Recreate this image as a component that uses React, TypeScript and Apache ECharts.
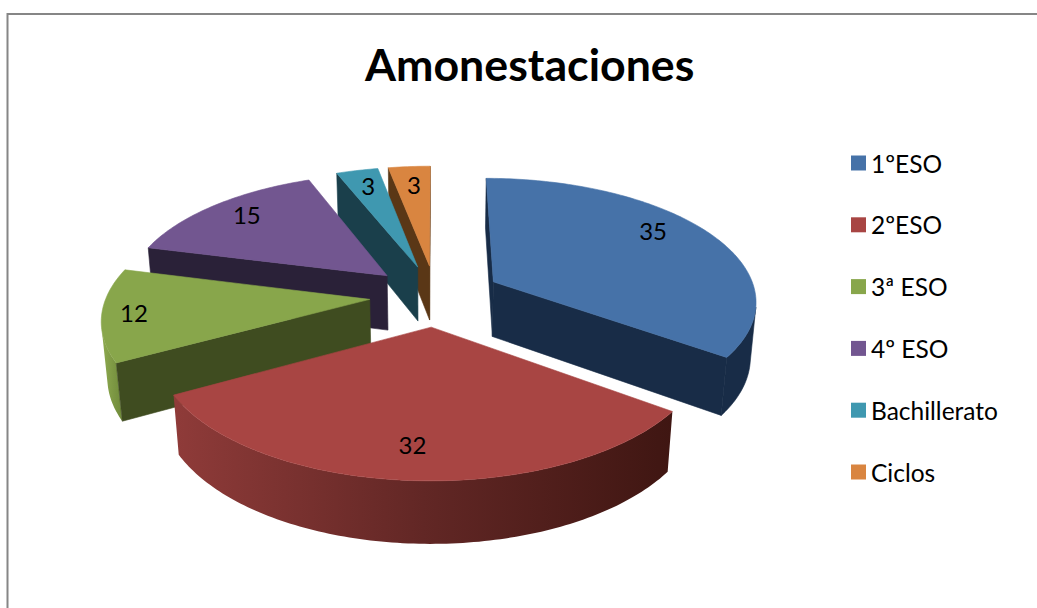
import React, { useEffect, useRef } from "react";
import * as echarts from "echarts";

const titleText = "Amonestaciones";
const categories = ["1ºESO", "2ºESO", "3ª ESO", "4º ESO", "Bachillerato", "Ciclos"];
const values = [35, 32, 12, 15, 3, 3];
const topColors = ["#4672a8", "#a84543", "#88a64b", "#725690", "#3f98b0", "#d98540"];
const wallColors = ["#182c47", "#431815", "#3f4c20", "#2a2138", "#1a3f4b", "#5a3716"];
const arcGradients: (string[] | null)[] = [
  null,
  ["#8f3b39", "#622725", "#3f1612"],
  ["#8eab50", "#7f9a45", "#6f8a3a"],
  null,
  null,
  null,
];
const drawOrder = [5, 4, 3, 0, 2, 1];
const labelRadius = [0.8, 0.65, 0.8, 0.8, 0.85, 0.85];
const labelNudge = [[-13, -11], [-6, 23], [-22, 1], [0, -4], [3, 2], [2, 5]];

// Camera and solid
const CX = 435.5, CY = 295.5, RADIUS = 263, EXPLODE = 66, HEIGHT = 63.5;
const ELEV = (27.6 * Math.PI) / 180, DIST = 1637;
const sinE = Math.sin(ELEV), cosE = Math.cos(ELEV);

function project(X: number, Y: number, Z: number): number[] {
  const n = Y * cosE + Z * sinE;
  const s = 1 / (1 - n / DIST);
  return [CX + X * s, CY + (Y * sinE - Z * cosE) * s];
}
function area(q: number[][]): number {
  let a = 0;
  for (let i = 0; i < q.length; i++) {
    const p = q[i], r = q[(i + 1) % q.length];
    a += p[0] * r[1] - r[0] * p[1];
  }
  return a;
}

const total = values.reduce((a, b) => a + b, 0);

function sliceElements(idx: number) {
  const before = values.slice(0, idx).reduce((a, b) => a + b, 0);
  const t0 = (before / total) * 2 * Math.PI;
  const t1 = ((before + values[idx]) / total) * 2 * Math.PI;
  const mid = (t0 + t1) / 2;
  const ox = EXPLODE * Math.sin(mid), oy = -EXPLODE * Math.cos(mid);
  const at = (t: number, r: number, z: number) =>
    project(ox + r * Math.sin(t), oy - r * Math.cos(t), z);

  const steps = Math.max(8, Math.round(((t1 - t0) * 180) / Math.PI));
  const ts: number[] = [];
  for (let i = 0; i <= steps; i++) ts.push(t0 + ((t1 - t0) * i) / steps);

  const children: any[] = [];
  const wallFill = wallColors[idx];
  const poly = (points: number[][], fill: any, stroke: string = "none") =>
    children.push({ type: "polygon", shape: { points }, style: { fill, stroke, lineWidth: 0.6 } });

  // rim wall: visible facets only
  const vis: number[] = [];
  for (let i = 0; i < steps; i++) {
    const q = [at(ts[i], RADIUS, 0), at(ts[i + 1], RADIUS, 0), at(ts[i + 1], RADIUS, -HEIGHT), at(ts[i], RADIUS, -HEIGHT)];
    if (area(q) < 0) vis.push(i);
  }
  if (vis.length) {
    const a = vis[0], b = vis[vis.length - 1] + 1;
    const top: number[][] = [], bot: number[][] = [];
    for (let i = a; i <= b; i++) {
      top.push(at(ts[i], RADIUS, 0));
      bot.unshift(at(ts[i], RADIUS, -HEIGHT));
    }
    const g = arcGradients[idx];
    if (g) {
      poly(top.concat(bot), {
        type: "linear", x: 1, y: 0, x2: 0, y2: 0,
        colorStops: [
          { offset: 0, color: g[2] },
          { offset: 0.5, color: g[1] },
          { offset: 1, color: g[0] },
        ],
      });
    } else {
      poly(top.concat(bot), wallFill, wallFill);
    }
  }

  // radial walls, only when they face the camera
  const radial = (t: number) => [at(t, 0, 0), at(t, RADIUS, 0), at(t, RADIUS, -HEIGHT), at(t, 0, -HEIGHT)];
  const q0 = radial(t0), q1 = radial(t1);
  if (area(q0) < 0) poly(q0, wallFill, wallFill);
  if (area(q1) > 0) poly(q1, wallFill, wallFill);

  // top face
  const face = [at(0, 0, 0)].concat(ts.map((t) => at(t, RADIUS, 0)));
  poly(face, topColors[idx], topColors[idx]);

  // value label
  const lp = at(mid, RADIUS * labelRadius[idx], 0);
  children.push({
    type: "text",
    style: {
      text: String(values[idx]),
      x: lp[0] + labelNudge[idx][0],
      y: lp[1] + labelNudge[idx][1],
      fill: "#000000",
      font: "24px Lato",
      align: "center",
      verticalAlign: "middle",
    },
  });
  return { type: "group", children };
}

export default function App() {
  const ref = useRef<HTMLDivElement>(null);
  useEffect(() => {
    document.body.style.margin = "0";
    const chart = echarts.init(ref.current!, null, { renderer: "svg" });
    chart.setOption({
      animation: false,
      backgroundColor: "#ffffff",
      title: {
        text: titleText,
        left: 365,
        top: 41,
        padding: 0,
        textStyle: { fontFamily: "Lato", fontWeight: "bold", fontSize: 44.7, color: "#000000" },
      },
      legend: {
        orient: "vertical",
        left: 851,
        top: 150.5,
        padding: 0,
        icon: "rect",
        itemWidth: 15,
        itemHeight: 15,
        itemGap: 36.8,
        data: categories,
        textStyle: { fontFamily: "Lato", fontSize: 24.5, color: "#000000" },
        selectedMode: false,
      },
      graphic: [
        {
          type: "rect",
          silent: true,
          shape: { x: 7.5, y: 14, width: 1100, height: 700 },
          style: { fill: "none", stroke: "#868686", lineWidth: 2 },
        },
      ],
      series: drawOrder.map((idx, order) => ({
        type: "custom",
        name: categories[idx],
        coordinateSystem: "none",
        z: 3 + order,
        itemStyle: { color: topColors[idx] },
        data: [values[idx]],
        renderItem: () => sliceElements(idx),
      })),
    });
    return () => chart.dispose();
  }, []);
  return <div ref={ref} style={{ width: 1037, height: 608 }} />;
}
